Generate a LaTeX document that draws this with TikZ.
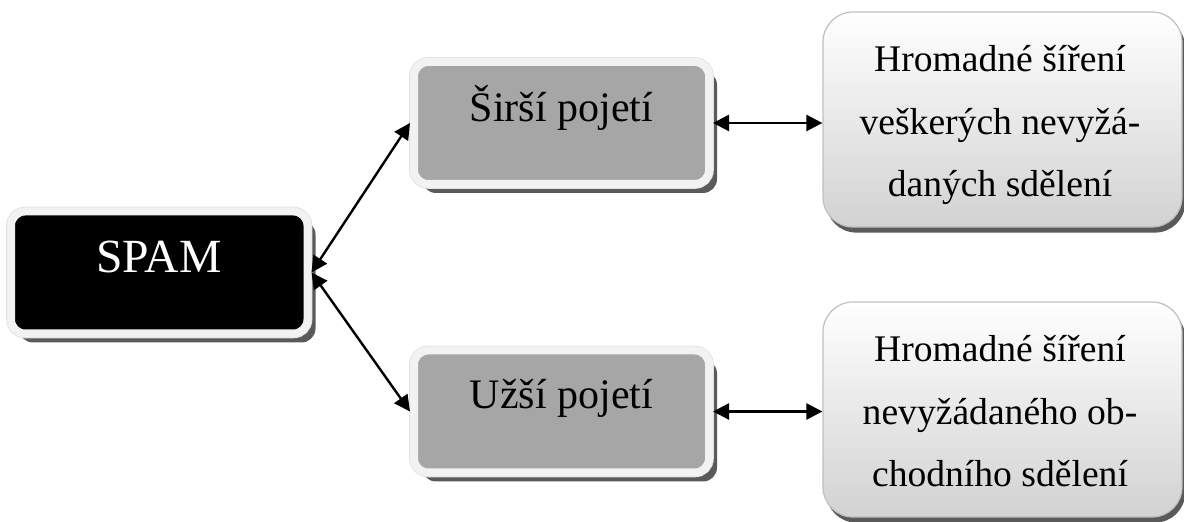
\documentclass[tikz,border=0pt]{standalone}
\usepackage{fontspec}
\setmainfont{Liberation Serif}
\usetikzlibrary{shadows,arrows.meta}
\definecolor{rimgray}{HTML}{F2F2F2}
\definecolor{midgray}{HTML}{A6A6A6}
\definecolor{shadowgray}{HTML}{5A5A5A}
\definecolor{edgegray}{HTML}{BFBFBF}
\definecolor{botgray}{HTML}{D2D2D2}
\begin{document}
\begin{tikzpicture}[x=0.5pt,y=-0.5pt,
  framebox/.style={rectangle, rounded corners=7pt, line width=4pt, draw=rimgray,
    inner sep=0pt, minimum width=147.5pt, minimum height=61pt,
    drop shadow={shadow xshift=4pt, shadow yshift=-4.5pt, fill=shadowgray, opacity=1},
    preaction={draw=black!12, line width=4.8pt}},
  spambox/.style={framebox, fill=black, minimum width=148.25pt},
  greybox/.style={framebox, fill=midgray},
  descbox/.style={rectangle, rounded corners=15pt, draw=edgegray, line width=0.6pt,
    inner sep=0pt, minimum width=179.5pt, minimum height=107.5pt,
    top color=white, bottom color=botgray,
    drop shadow={shadow xshift=1.6pt, shadow yshift=-2.8pt, fill=shadowgray, opacity=1}},
  spamtxt/.style={inner sep=0pt, anchor=base, text=white, font=\fontsize{23.8pt}{28pt}\selectfont},
  greytxt/.style={inner sep=0pt, anchor=base, font=\fontsize{21pt}{25pt}\selectfont},
  desctxt/.style={inner sep=0pt, anchor=base, align=center, font=\fontsize{18.8pt}{31.25pt}\selectfont},
  link/.style={line width=1.2pt, {Triangle[length=8pt,width=8pt]}-{Triangle[length=8pt,width=8pt]}}
]
\useasboundingbox (0,0) rectangle (1184,522);

\node[spambox] (spam) at (159.25,272.5) {};
\node[greybox] (siri) at (561.5,123) {};
\node[greybox] (uzsi) at (561.5,411.5) {};
\node[descbox] (dtop) at (1002.5,119.5) {};
\node[descbox] (dbot) at (1002.5,409.5) {};

\node[spamtxt] (spaml) at (159,273) {SPAM};
\node[greytxt] (siril) at (561.5,122) {Širší pojetí};
\node[greytxt] (uzsil) at (561.5,409) {Užší pojetí};
\node[desctxt] (dtopl) at (1000,197) {Hromadné šíření\\veškerých nevyžá-\\daných sdělení};
\node[desctxt] (dbotl) at (1000,487) {Hromadné šíření\\nevyžádaného ob-\\chodního sdělení};

\draw[link] (spam.east) -- (siri.west);
\draw[link] (spam.east) -- (uzsi.west);
\draw[link] (siri.east) -- (siri.east -| dtop.west);
\draw[link] (uzsi.east) -- (uzsi.east -| dbot.west);
\end{tikzpicture}
\end{document}
